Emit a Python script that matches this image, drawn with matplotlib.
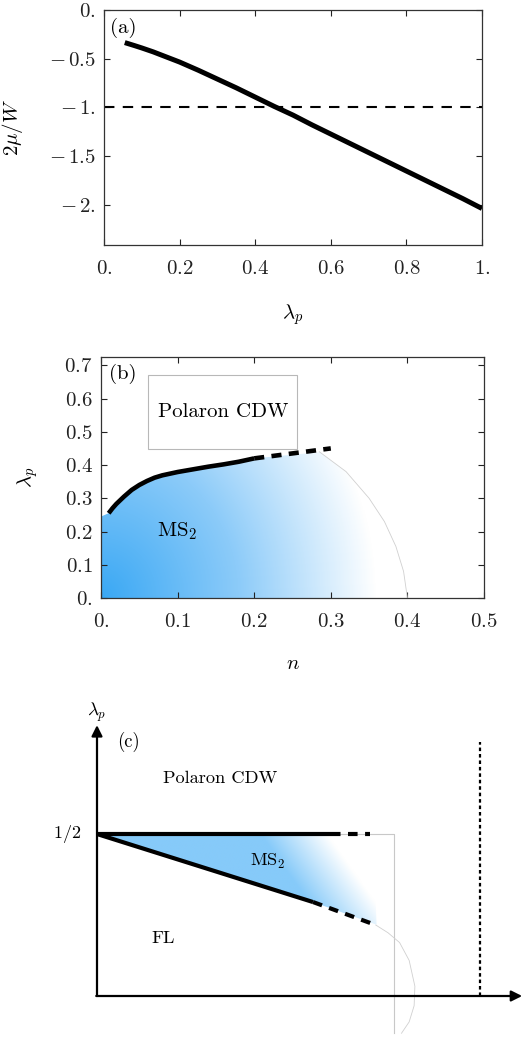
import numpy as np
import matplotlib
matplotlib.use("Agg")
import matplotlib.pyplot as plt
from matplotlib.colors import LinearSegmentedColormap
from matplotlib.patches import Polygon, Rectangle
from matplotlib.ticker import FixedLocator, FixedFormatter

plt.rcParams['mathtext.fontset'] = 'cm'
plt.rcParams['font.family'] = 'serif'
plt.rcParams['font.serif'] = ['cmr10', 'DejaVu Serif']
plt.rcParams['axes.unicode_minus'] = False

# ---- panel (a): chemical potential vs lambda_p
lam_a = [0.055, 0.08, 0.1, 0.13, 0.16, 0.2, 0.25, 0.3, 0.35, 0.4, 0.45, 0.5,
         0.55, 0.6, 0.65, 0.7, 0.75, 0.8, 0.85, 0.9, 0.95, 1.0]
mu_a = [-0.335, -0.365, -0.39, -0.43, -0.475, -0.535, -0.62, -0.71, -0.80, -0.895, -0.99, -1.08,
        -1.18, -1.275, -1.37, -1.465, -1.56, -1.655, -1.75, -1.845, -1.94, -2.04]
mu_ref = -1.0
xticks_a = [0.0, 0.2, 0.4, 0.6, 0.8, 1.0]
xticklabels_a = ['0.', '0.2', '0.4', '0.6', '0.8', '1.']
yticks_a = [0.0, -0.5, -1.0, -1.5, -2.0]
yticklabels_a = ['0.', r'-\,0.5', r'-\,1.', r'-\,1.5', r'-\,2.']

# ---- panel (b): phase diagram lambda_p vs n
n_solid = [0.01, 0.015, 0.02, 0.03, 0.04, 0.05, 0.06, 0.07, 0.08, 0.1, 0.12, 0.14, 0.16, 0.18, 0.2]
lam_solid = [0.255, 0.27, 0.283, 0.305, 0.325, 0.34, 0.352, 0.362, 0.369, 0.379, 0.387, 0.395,
             0.402, 0.41, 0.42]
n_dash = [0.2, 0.3]
lam_dash = [0.42, 0.45]
n_arc = [0.285, 0.32, 0.35, 0.37, 0.385, 0.395, 0.4]
lam_arc = [0.44, 0.38, 0.30, 0.23, 0.155, 0.08, 0.0]
xticks_b = [0.0, 0.1, 0.2, 0.3, 0.4, 0.5]
xticklabels_b = ['0.', '0.1', '0.2', '0.3', '0.4', '0.5']
yticks_b = [0.0, 0.1, 0.2, 0.3, 0.4, 0.5, 0.6, 0.7]
yticklabels_b = ['0.', '0.1', '0.2', '0.3', '0.4', '0.5', '0.6', '0.7']

# ---- panel (c): schematic
top_solid_x = [0.0, 0.616]
top_dash_x = [0.616, 0.713]
low_solid = ([0.0, 0.564], [0.5, 0.290])
low_dash = ([0.564, 0.728], [0.290, 0.219])
box_x = 0.775
arc_c_x = [0.728, 0.76, 0.79, 0.815, 0.83, 0.828, 0.815, 0.795]
arc_c_y = [0.219, 0.195, 0.165, 0.11, 0.03, -0.03, -0.08, -0.115]
half_fill_x = 1.0

blue_b = LinearSegmentedColormap.from_list('bb', ['#3aa8f4', '#8ccbf9', '#ffffff'])
blue_c = LinearSegmentedColormap.from_list('bc', ['#86caf9', '#86caf9', '#ffffff'])

fs = 15
fig = plt.figure(figsize=(5.32, 10.41), dpi=100)


def style_axes(ax, xt, xtl, yt, ytl):
    ax.xaxis.set_major_locator(FixedLocator(xt))
    ax.xaxis.set_major_formatter(FixedFormatter(['$' + s + '$' for s in xtl]))
    ax.yaxis.set_major_locator(FixedLocator(yt))
    ax.yaxis.set_major_formatter(FixedFormatter(['$' + s + '$' for s in ytl]))
    ax.tick_params(direction='in', top=True, right=True, length=4, width=0.8,
                   labelsize=fs, pad=6, colors='#222222')
    ax.xaxis.set_tick_params(pad=11)
    for sp in ax.spines.values():
        sp.set_linewidth(0.9)
        sp.set_color('#333333')


# (a)
ax1 = fig.add_axes([104 / 532, 1 - 245 / 1041, 378 / 532, 235 / 1041])
ax1.plot(lam_a, mu_a, color='k', lw=3.6, solid_capstyle='butt')
ax1.axhline(mu_ref, color='k', lw=1.5, ls=(0, (5, 4)))
ax1.set_xlim(0, 1)
ax1.set_ylim(-2.415, 0.0)
style_axes(ax1, xticks_a, xticklabels_a, yticks_a, yticklabels_a)
ax1.text(0.015, 0.965, '(a)', transform=ax1.transAxes, fontsize=fs, va='top', ha='left')
ax1.set_xlabel(r'$\lambda_p$', fontsize=fs)
ax1.xaxis.set_label_coords(0.5, -0.243)
ax1.set_ylabel(r'$2\mu/W$', fontsize=fs)
ax1.yaxis.set_label_coords(-0.209, 0.5)

# (b)
ax2 = fig.add_axes([101 / 532, 1 - 598 / 1041, 383 / 532, 241 / 1041])
ax2.set_xlim(0, 0.5)
ax2.set_ylim(0, 0.725)
nn, ll = np.meshgrid(np.linspace(0, 0.42, 300), np.linspace(0, 0.46, 300))
tt = np.clip(np.hypot(nn / 0.36, ll / 0.9), 0, 1)
img = ax2.imshow(tt, extent=[0, 0.42, 0, 0.46], origin='lower', cmap=blue_b,
                 vmin=0, vmax=1, aspect='auto', interpolation='bilinear', zorder=1)
poly_pts = ([(0, 0), (0, 0.245)] + list(zip(n_solid, lam_solid))
            + [(0.285, 0.4385)] + list(zip(n_arc, lam_arc)))
clip_b = Polygon(poly_pts, closed=True, transform=ax2.transData, fc='none', ec='none')
ax2.add_patch(clip_b)
img.set_clip_path(clip_b)
ax2.plot(n_arc, lam_arc, color='#d0d0d0', lw=0.6, zorder=2)
ax2.plot(n_solid, lam_solid, color='k', lw=3.3, zorder=3, solid_capstyle='butt')
ax2.plot(n_dash, lam_dash, color='k', lw=3.3, ls=(0, (2.2, 1.6)), zorder=3)
ax2.add_patch(Rectangle((0.061, 0.448), 0.1955, 0.222, fc='white', ec='#b8b8b8', lw=0.8, zorder=2))
ax2.text(0.16, 0.56, 'Polaron CDW', fontsize=fs, ha='center', va='center', zorder=4)
ax2.text(0.1, 0.2, r'$\mathrm{MS}_2$', fontsize=fs, ha='center', va='center', zorder=4)
ax2.text(0.01, 0.705, '(b)', fontsize=fs, va='top', ha='left', zorder=4)
style_axes(ax2, xticks_b, xticklabels_b, yticks_b, yticklabels_b)
ax2.set_xlabel(r'$n$', fontsize=fs)
ax2.xaxis.set_label_coords(0.5, -0.237)
ax2.set_ylabel(r'$\lambda_p$', fontsize=fs)
ax2.yaxis.set_label_coords(-0.159, 0.5)

# (c)
ax3 = fig.add_axes([0, 0, 1, 351 / 1041])
ax3.set_xlim(-97 / 383, 435 / 383)
ax3.set_ylim(-45 / 324, 306 / 324)
ax3.axis('off')
xx, yy = np.meshgrid(np.linspace(0, 0.75, 300), np.linspace(0.2, 0.5, 200))
tc = np.clip((xx - 0.6 * (0.5 - yy) - 0.25) / 0.35, 0, 1)
img_c = ax3.imshow(tc, extent=[0, 0.75, 0.2, 0.5], origin='lower', cmap=blue_c,
                   vmin=0, vmax=1, aspect='auto', interpolation='bilinear', zorder=1)
clip_c = Polygon([(0, 0.5), (0.72, 0.5), (0.73, 0.22), (0.564, 0.29)], closed=True,
                 transform=ax3.transData, fc='none', ec='none')
ax3.add_patch(clip_c)
img_c.set_clip_path(clip_c)
ax3.plot([0.6, box_x, box_x], [0.5, 0.5, -0.114], color='#c8c8c8', lw=0.8, zorder=2)
ax3.plot(arc_c_x, arc_c_y, color='#d0d0d0', lw=0.6, zorder=2)
ax3.plot(top_solid_x, [0.5, 0.5], color='k', lw=3.0, zorder=3, solid_capstyle='butt')
ax3.plot(top_dash_x, [0.5, 0.5], color='k', lw=3.0, ls=(0.5, (2.3, 1.8)), zorder=3)
ax3.plot(*low_solid, color='k', lw=3.0, zorder=3, solid_capstyle='butt')
ax3.plot(*low_dash, color='k', lw=3.0, ls=(0, (2.3, 1.8)), zorder=3)
ax3.plot([half_fill_x, half_fill_x], [0, 0.784], color='k', lw=1.6, ls=(0, (1.6, 1.3)), zorder=3)
arrow = dict(arrowstyle='-|>', lw=1.6, color='k', mutation_scale=16, shrinkA=0, shrinkB=0)
ax3.annotate('', xy=(0, 0.836), xytext=(0, 0), arrowprops=arrow, zorder=4)
ax3.annotate('', xy=(1.11, 0), xytext=(-0.002, 0), arrowprops=arrow, zorder=4)
ax3.text(0.0, 0.875, r'$\lambda_p$', fontsize=13.5, ha='center', va='center')
ax3.text(0.081, 0.784, '(c)', fontsize=13.5, ha='center', va='center')
ax3.text(-0.078, 0.5, r'$1/2$', fontsize=13, ha='center', va='center')
ax3.text(0.321, 0.673, 'Polaron CDW', fontsize=13.2, ha='center', va='center')
ax3.text(0.446, 0.414, r'$\mathrm{MS}_2$', fontsize=13.2, ha='center', va='center', zorder=4)
ax3.text(0.172, 0.179, 'FL', fontsize=13.2, ha='center', va='center')

fig.savefig('out.png', dpi=100)
